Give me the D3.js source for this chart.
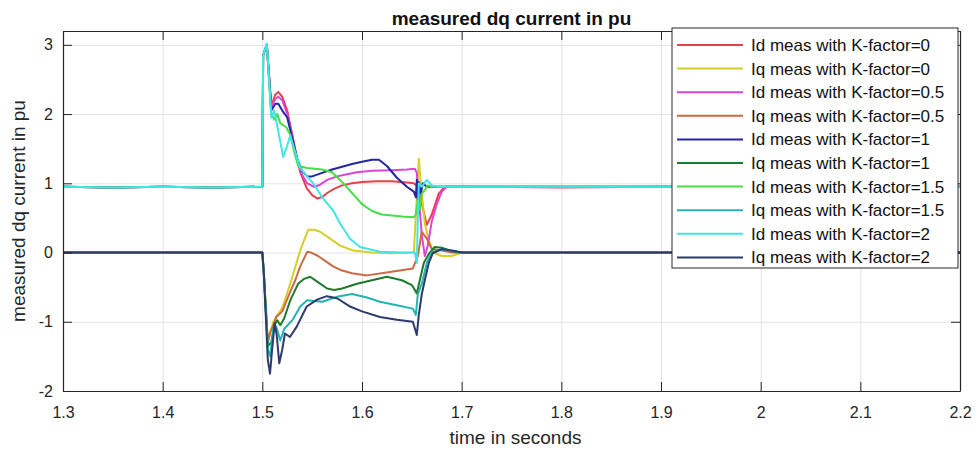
<!DOCTYPE html>
<html>
<head>
<meta charset="utf-8">
<script src="https://cdn.jsdelivr.net/npm/d3@7"></script>
<style>
  html, body { margin: 0; padding: 0; background: #fff; }
  svg { display: block; font-family: "Liberation Sans", Arial, sans-serif; }
</style>
</head>
<body>
<svg id="chart" width="978" height="454"></svg>
<script>
// Axis ticks
const xTicks = [1.3, 1.4, 1.5, 1.6, 1.7, 1.8, 1.9, 2.0, 2.1, 2.2];
const yTicks = [-2, -1, 0, 1, 2, 3];

// Measured d-axis current, K-factor = 0
const idK0 = [[1.3,0.95],[1.35,0.94],[1.4,0.95],[1.45,0.94],[1.5,0.95],[1.5008,2.85],[1.5045,3.0],[1.509,2.12],[1.513,2.28],[1.516,2.32],[1.52,2.25],[1.525,2.05],[1.53,1.7],[1.534,1.4],[1.538,1.16],[1.5445,0.93],[1.55,0.83],[1.555,0.78],[1.56,0.8],[1.565,0.86],[1.572,0.92],[1.58,0.97],[1.59,1.0],[1.6,1.02],[1.615,1.03],[1.63,1.03],[1.645,1.01],[1.652,1.0],[1.656,0.95],[1.66,0.7],[1.665,0.4],[1.67,0.55],[1.677,0.85],[1.683,0.95],[1.7,0.95],[1.8,0.94],[1.9,0.95],[2.0,0.95],[2.1,0.94],[2.2,0.95]];
// Measured q-axis current, K-factor = 0
const iqK0 = [[1.3,0.0],[1.4,0.0],[1.5,0.0],[1.5015,-0.3],[1.5055,-1.25],[1.508,-1.15],[1.511,-1.0],[1.514,-0.93],[1.52,-0.8],[1.528,-0.45],[1.538,0.03],[1.546,0.33],[1.552,0.33],[1.558,0.3],[1.568,0.2],[1.578,0.1],[1.591,0.03],[1.61,0.0],[1.63,-0.01],[1.652,0.0],[1.655,0.8],[1.657,1.36],[1.659,1.0],[1.663,0.42],[1.667,0.18],[1.672,0.0],[1.68,-0.05],[1.69,-0.05],[1.7,0.0],[1.8,0.0],[2.0,0.0],[2.2,0.0]];
// Measured d-axis current, K-factor = 0.5
const idK05 = [[1.3,0.95],[1.35,0.94],[1.4,0.95],[1.45,0.94],[1.5,0.95],[1.5008,2.85],[1.5045,3.0],[1.509,2.1],[1.513,2.22],[1.516,2.25],[1.52,2.2],[1.525,2.0],[1.53,1.7],[1.535,1.35],[1.54,1.12],[1.545,1.0],[1.552,0.95],[1.558,0.98],[1.565,1.05],[1.575,1.1],[1.585,1.13],[1.595,1.16],[1.61,1.18],[1.63,1.19],[1.645,1.2],[1.653,1.21],[1.655,1.15],[1.657,0.8],[1.66,0.25],[1.663,-0.05],[1.666,0.1],[1.67,0.45],[1.675,0.7],[1.68,0.88],[1.685,0.95],[1.7,0.95],[1.8,0.95],[2.0,0.95],[2.2,0.95]];
// Measured q-axis current, K-factor = 0.5
const iqK05 = [[1.3,0.0],[1.4,0.0],[1.5,0.0],[1.5015,-0.3],[1.5055,-1.3],[1.508,-1.15],[1.511,-1.05],[1.514,-0.93],[1.52,-0.85],[1.527,-0.6],[1.533,-0.4],[1.538,-0.2],[1.545,0.01],[1.549,0.0],[1.556,-0.05],[1.563,-0.12],[1.571,-0.2],[1.58,-0.26],[1.59,-0.3],[1.605,-0.33],[1.628,-0.28],[1.651,-0.23],[1.656,-0.05],[1.66,0.3],[1.665,0.2],[1.67,0.05],[1.68,0.03],[1.69,0.0],[1.8,0.0],[2.0,0.0],[2.2,0.0]];
// Measured d-axis current, K-factor = 1
const idK1 = [[1.3,0.95],[1.35,0.94],[1.4,0.95],[1.45,0.94],[1.5,0.95],[1.5008,2.85],[1.5045,3.0],[1.509,2.05],[1.513,2.15],[1.516,2.15],[1.52,2.05],[1.525,1.95],[1.53,1.65],[1.535,1.35],[1.54,1.18],[1.545,1.1],[1.55,1.1],[1.56,1.15],[1.57,1.2],[1.58,1.24],[1.59,1.28],[1.6,1.31],[1.61,1.34],[1.617,1.34],[1.625,1.25],[1.635,1.08],[1.645,0.95],[1.652,0.88],[1.654,0.8],[1.655,1.05],[1.656,0.75],[1.657,1.02],[1.659,0.85],[1.661,1.0],[1.665,0.95],[1.7,0.95],[1.8,0.95],[2.0,0.95],[2.2,0.95]];
// Measured q-axis current, K-factor = 1
const iqK1 = [[1.3,0.0],[1.4,0.0],[1.5,0.0],[1.5015,-0.3],[1.5055,-1.35],[1.509,-1.3],[1.512,-1.05],[1.515,-0.98],[1.518,-1.05],[1.522,-0.95],[1.528,-0.69],[1.536,-0.45],[1.542,-0.38],[1.548,-0.35],[1.555,-0.42],[1.565,-0.52],[1.572,-0.54],[1.58,-0.52],[1.595,-0.45],[1.61,-0.4],[1.625,-0.35],[1.64,-0.4],[1.65,-0.47],[1.655,-0.59],[1.658,-0.4],[1.662,-0.15],[1.667,-0.02],[1.673,0.08],[1.68,0.07],[1.69,0.02],[1.7,0.0],[1.8,0.0],[2.0,0.0],[2.2,0.0]];
// Measured d-axis current, K-factor = 1.5
const idK15 = [[1.3,0.95],[1.35,0.94],[1.4,0.95],[1.45,0.94],[1.5,0.95],[1.5008,2.85],[1.5045,3.0],[1.509,2.0],[1.512,1.92],[1.515,2.0],[1.518,1.87],[1.524,1.81],[1.528,1.7],[1.532,1.45],[1.536,1.25],[1.545,1.22],[1.56,1.2],[1.57,1.16],[1.58,1.02],[1.59,0.86],[1.6,0.7],[1.61,0.6],[1.62,0.55],[1.64,0.52],[1.652,0.51],[1.654,0.55],[1.656,0.75],[1.658,0.62],[1.66,0.85],[1.663,0.9],[1.666,0.97],[1.67,0.95],[1.7,0.95],[1.8,0.95],[2.0,0.95],[2.2,0.95]];
// Measured q-axis current, K-factor = 1.5
const iqK15 = [[1.3,0.0],[1.4,0.0],[1.5,0.0],[1.5015,-0.3],[1.5055,-1.4],[1.508,-1.5],[1.511,-1.1],[1.514,-1.07],[1.518,-1.27],[1.522,-1.1],[1.53,-0.98],[1.538,-0.78],[1.545,-0.69],[1.56,-0.71],[1.575,-0.64],[1.59,-0.6],[1.605,-0.65],[1.618,-0.71],[1.635,-0.76],[1.651,-0.81],[1.654,-0.9],[1.656,-0.6],[1.66,-0.45],[1.665,-0.15],[1.67,0.0],[1.68,0.05],[1.7,0.0],[1.8,0.0],[2.0,0.0],[2.2,0.0]];
// Measured d-axis current, K-factor = 2
const idK2 = [[1.3,0.95],[1.35,0.94],[1.4,0.95],[1.45,0.94],[1.5,0.95],[1.5008,2.85],[1.5045,3.02],[1.509,1.95],[1.512,2.05],[1.516,1.75],[1.521,1.38],[1.525,1.55],[1.528,1.69],[1.532,1.5],[1.538,1.22],[1.551,1.0],[1.561,0.78],[1.571,0.61],[1.578,0.42],[1.588,0.2],[1.598,0.08],[1.618,0.01],[1.64,0.0],[1.653,0.0],[1.655,-0.15],[1.656,0.5],[1.657,1.0],[1.66,0.95],[1.665,1.05],[1.67,0.97],[1.68,0.95],[1.7,0.95],[1.8,0.95],[2.0,0.95],[2.2,0.95]];
// Measured q-axis current, K-factor = 2
const iqK2 = [[1.3,0.0],[1.4,0.0],[1.5,0.0],[1.5015,-0.3],[1.5055,-1.55],[1.5077,-1.75],[1.5095,-1.45],[1.5124,-1.02],[1.5145,-1.2],[1.517,-1.6],[1.52,-1.4],[1.5227,-1.17],[1.5277,-1.22],[1.5345,-1.07],[1.5445,-0.78],[1.555,-0.68],[1.5646,-0.63],[1.575,-0.66],[1.588,-0.78],[1.6,-0.85],[1.618,-0.93],[1.635,-0.97],[1.651,-1.0],[1.655,-1.19],[1.657,-0.9],[1.66,-0.6],[1.663,-0.4],[1.667,-0.15],[1.671,-0.01],[1.68,0.05],[1.69,0.03],[1.7,0.0],[1.8,0.0],[2.0,0.0],[2.2,0.0]];

const seriesNames = [
  "Id meas with K-factor=0", "Iq meas with K-factor=0",
  "Id meas with K-factor=0.5", "Iq meas with K-factor=0.5",
  "Id meas with K-factor=1", "Iq meas with K-factor=1",
  "Id meas with K-factor=1.5", "Iq meas with K-factor=1.5",
  "Id meas with K-factor=2", "Iq meas with K-factor=2"
];
const seriesData = [idK0, iqK0, idK05, iqK05, idK1, iqK1, idK15, iqK15, idK2, iqK2];
const seriesColors = ["#e8404a", "#d6cf2a", "#dc44dc", "#cc6a44", "#2424a8",
                      "#1c7a2c", "#48de48", "#22b4b0", "#3ee6e6", "#2c3a6c"];

const svg = d3.select("#chart");
const plot = { left: 63, right: 960, top: 31, bottom: 391 };

const x = d3.scaleLinear().domain([1.3, 2.2]).range([plot.left, plot.right]);
const y = d3.scaleLinear().domain([-2, 3.2]).range([plot.bottom, plot.top]);

// grid lines
svg.append("g")
  .attr("transform", `translate(0,${plot.bottom})`)
  .call(d3.axisBottom(x).tickValues(xTicks).tickSize(-(plot.bottom - plot.top)).tickFormat(""))
  .call(g => g.select(".domain").remove())
  .call(g => g.selectAll("line").attr("stroke", "#e3e3e3").attr("stroke-width", 1));
svg.append("g")
  .attr("transform", `translate(${plot.left},0)`)
  .call(d3.axisLeft(y).tickValues(yTicks).tickSize(-(plot.right - plot.left)).tickFormat(""))
  .call(g => g.select(".domain").remove())
  .call(g => g.selectAll("line").attr("stroke", "#e3e3e3").attr("stroke-width", 1));

// data lines
svg.append("clipPath").attr("id", "plotClip")
  .append("rect")
  .attr("x", plot.left).attr("y", plot.top)
  .attr("width", plot.right - plot.left).attr("height", plot.bottom - plot.top);

const line = d3.line().x(d => x(d[0])).y(d => y(d[1]));
const lines = svg.append("g").attr("clip-path", "url(#plotClip)");
seriesData.forEach((data, i) => {
  lines.append("path")
    .datum(data)
    .attr("d", line)
    .attr("fill", "none")
    .attr("stroke", seriesColors[i])
    .attr("stroke-width", 2)
    .attr("stroke-linejoin", "round");
});

// axes with inward ticks on all four sides
const tickLen = 9;
const axisColor = "#262626";
const fmt = d => String(+(+d).toFixed(1));

const styleAxis = (g, size) => {
  g.select(".domain").attr("stroke", axisColor).attr("stroke-width", 1.2);
  g.selectAll(".tick line").attr("stroke", axisColor);
  g.selectAll(".tick text").attr("fill", "#262626").style("font-size", size + "px");
};

svg.append("g")
  .attr("transform", `translate(0,${plot.bottom})`)
  .call(d3.axisBottom(x).tickValues(xTicks).tickSizeInner(-tickLen).tickSizeOuter(0).tickPadding(16).tickFormat(fmt))
  .call(g => styleAxis(g, 16));
svg.append("g")
  .attr("transform", `translate(0,${plot.top})`)
  .call(d3.axisTop(x).tickValues(xTicks).tickSizeInner(-tickLen).tickSizeOuter(0).tickFormat(""))
  .call(g => styleAxis(g, 16));
svg.append("g")
  .attr("transform", `translate(${plot.left},0)`)
  .call(d3.axisLeft(y).tickValues(yTicks).tickSizeInner(-tickLen).tickSizeOuter(0).tickPadding(10).tickFormat(d => String(d)))
  .call(g => styleAxis(g, 16));
svg.append("g")
  .attr("transform", `translate(${plot.right},0)`)
  .call(d3.axisRight(y).tickValues(yTicks).tickSizeInner(-tickLen).tickSizeOuter(0).tickFormat(""))
  .call(g => styleAxis(g, 16));

// title and axis labels
svg.append("text")
  .attr("x", (plot.left + plot.right) / 2).attr("y", 25)
  .attr("text-anchor", "middle")
  .style("font-size", "19px").style("font-weight", "bold").attr("fill", "#111")
  .text("measured dq current in pu");
svg.append("text")
  .attr("x", (plot.left + plot.right) / 2 + 4).attr("y", 444)
  .attr("text-anchor", "middle")
  .style("font-size", "19px").attr("fill", "#262626")
  .text("time in seconds");
svg.append("text")
  .attr("transform", `translate(25,${(plot.top + plot.bottom) / 2}) rotate(-90)`)
  .attr("text-anchor", "middle")
  .style("font-size", "19px").attr("fill", "#262626")
  .text("measured dq current in pu");

// legend
const legend = svg.append("g").attr("transform", "translate(672,28)");
legend.append("rect")
  .attr("width", 286).attr("height", 240)
  .attr("fill", "#fff").attr("stroke", "#2a2a2a").attr("stroke-width", 1);
seriesNames.forEach((name, i) => {
  const ry = 17 + i * 23.6;
  legend.append("line")
    .attr("x1", 5).attr("x2", 71).attr("y1", ry).attr("y2", ry)
    .attr("stroke", seriesColors[i]).attr("stroke-width", 2);
  legend.append("text")
    .attr("x", 79).attr("y", ry)
    .attr("dy", "0.35em")
    .style("font-size", "17px").attr("fill", "#111")
    .text(name);
});
</script>
</body>
</html>
